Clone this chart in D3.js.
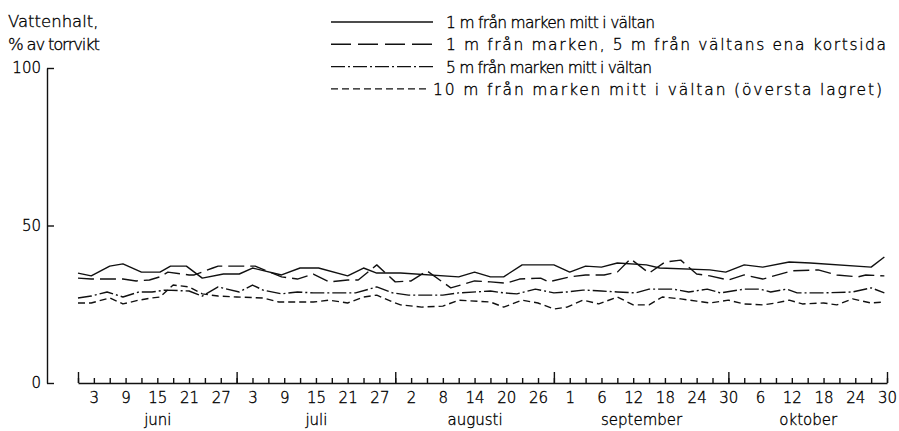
<!DOCTYPE html>
<head>
  <meta charset="utf-8">
  <script src="https://d3js.org/d3.v7.min.js"></script>
  <style>
    body { margin:0; background:#fff; }

    text {
      font-family: 'DejaVu Sans', sans-serif;
      font-weight: 200;
      fill: #000;
      stroke: #000;
      stroke-width: 0.35;
    }

    .axis path, .axis line {
      stroke: #111;
      stroke-width: 1.4;
    }

    .axis text {
      font-size: 15px;
    }

    .series {
      fill: none;
      stroke: #111;
      stroke-width: 1.4;
      stroke-linejoin: round;
    }

    .legend text {
      font-size: 15.5px;
    }
  </style>
</head>

<body>
  <script>
    // x is a day index: 0 = 31 May, small ticks every 3 days, labels every 6
    var tickLabels = ["3", "9", "15", "21", "27", "3", "9", "15", "21", "27",
                      "2", "8", "14", "20", "26", "1", "6", "12", "18", "24", "30",
                      "6", "12", "18", "24", "30"];
    var monthNames = ["juni", "juli", "augusti", "september", "oktober"];
    var monthBounds = [0, 30, 60, 90, 123, 153];
    var yTicks = [0, 50, 100];

    var seriesNames = [
      "1 m från marken mitt i vältan",
      "1 m från marken, 5 m från vältans ena kortsida",
      "5 m från marken mitt i vältan",
      "10 m från marken mitt i vältan (översta lagret)"
    ];

    // [day, % of dry weight]
    var mid1m = [[0,34.9],[2.5,34.0],[6,37.1],[8.5,37.8],[12,35.2],[15.5,35.2],[17.5,37.1],
      [20.5,37.1],[23.5,33.3],[27.5,34.6],[30.5,34.6],[33,36.5],[38.5,34.3],[42,36.5],
      [45.5,36.5],[51,34.0],[54,36.5],[56.5,34.9],[61,34.9],[72,33.7],[75,35.2],[78,33.7],
      [80.5,33.7],[84,37.5],[90,37.5],[93,35.2],[96,37.1],[99,36.8],[102,38.1],[107.5,37.5],
      [110,36.5],[119.5,35.9],[122.5,35.2],[126,37.5],[129.5,36.8],[134.5,38.4],[138.5,38.1],
      [150,36.8],[152.5,40.0]];

    var side1m = [[0,33.3],[2.5,33.0],[8.5,33.0],[11,32.4],[13.5,32.7],[15.5,33.7],[17,35.2],
      [21,34.3],[22,34.3],[25.5,36.5],[26.5,37.1],[33.5,37.1],[38.5,33.7],[41.5,33.0],
      [44.5,34.6],[47.5,32.1],[51,32.7],[53,32.7],[56.5,37.5],[60,32.1],[63,32.4],[66,35.6],
      [70.5,30.2],[75,32.4],[78,32.1],[81,31.7],[83.5,33.0],[87.5,33.3],[89,32.1],[93,33.7],
      [96,34.3],[99.5,34.3],[102,35.2],[104.5,39.4],[108,34.9],[111,38.4],[114,39.0],
      [117,34.6],[119.5,34.0],[123,32.7],[126,34.3],[129.5,33.0],[135,35.6],[140,35.9],
      [143.5,34.3],[147.5,33.7],[149,34.3],[152.5,34.0]];

    var mid5m = [[0,27.0],[2.5,27.6],[5.5,28.9],[8.5,27.3],[11.5,28.9],[14,28.9],[16.5,29.5],
      [21,29.2],[23.5,27.6],[26.5,30.5],[30.5,28.9],[33,31.1],[35,29.5],[38.5,28.3],
      [41.5,28.9],[44.5,28.6],[52.5,28.6],[56.5,30.5],[59.5,28.6],[62.5,27.9],[69,27.9],
      [72,28.6],[78,29.2],[80.5,28.6],[83,28.3],[86.5,29.8],[90,28.6],[92.5,28.9],[95.5,29.5],
      [99,29.2],[102,28.9],[105.5,28.6],[108,29.8],[112.5,29.8],[115.5,28.9],[119,29.8],
      [121.5,28.6],[126,29.8],[129,29.8],[131,28.9],[134,29.8],[136,28.6],[141,28.6],
      [146.5,28.9],[150,30.2],[152.5,28.6]];

    var top10m = [[0,25.4],[2.5,25.4],[6,27.0],[8.5,25.1],[11.5,26.3],[14,27.0],[15.5,27.3],
      [18,31.1],[21,30.5],[23.5,28.3],[26.5,27.6],[30,27.3],[35,27.0],[38,25.7],[44.5,25.7],
      [47.5,26.3],[51,25.4],[54,27.3],[56.5,27.9],[59.5,25.7],[61,24.8],[65,24.1],[69,24.4],
      [72,26.3],[78,25.7],[80.5,24.1],[84,26.3],[87,25.4],[90,23.5],[92.5,24.1],[95.5,26.3],
      [98.5,25.1],[102,27.3],[105,24.8],[108,24.8],[110.5,27.3],[114,26.7],[117,26.0],
      [119.5,25.4],[123,26.3],[126,25.1],[129.5,24.8],[132,25.4],[134.5,26.3],[137,25.1],
      [141,25.4],[143.5,24.8],[146.5,26.7],[150,25.4],[152.5,25.7]];

    var dashes = ["none", "16,6", "14,3,2,3", "7,4"];
    var seriesData = [mid1m, side1m, mid5m, top10m];

    // hand lettering in the legend is uneven, so each row gets its own width
    var legendTextWidth = [209, 440, 206, 449];

    var width = 899, height = 431;

    var svg = d3.select("body").append("svg")
        .attr("width", width)
        .attr("height", height);

    var x = d3.scaleLinear()
        .domain([0, 153])
        .range([78, 887]);

    var y = d3.scaleLinear()
        .domain([0, 100])
        .range([383, 68]);

    var line = d3.line()
        .x(d => x(d[0]))
        .y(d => y(d[1]));

    // y axis, ticks pointing inward
    var yAxis = d3.axisLeft(y)
        .tickValues(yTicks)
        .tickSize(-7)
        .tickSizeOuter(0)
        .tickPadding(6);

    svg.append("g")
        .attr("class", "axis y-axis")
        .attr("transform", "translate(47,0)")
        .call(yAxis);

    // x axis: small ticks, taller ticks at month bounds, then the labels
    var xBase = y(0);
    svg.append("g")
        .attr("class", "axis")
        .attr("transform", "translate(0," + xBase + ")")
        .call(d3.axisBottom(x)
          .tickValues(d3.range(0, 154, 3))
          .tickSize(-5)
          .tickSizeOuter(0)
          .tickFormat(""));

    svg.append("g")
        .attr("class", "axis")
        .attr("transform", "translate(0," + xBase + ")")
        .call(d3.axisBottom(x)
          .tickValues(monthBounds)
          .tickSize(-11)
          .tickSizeOuter(0)
          .tickFormat(""))
        .call(g => g.select(".domain").remove());

    var labelDays = tickLabels.map((t, i) => 3 + i * 6);
    svg.append("g")
        .attr("class", "axis")
        .attr("transform", "translate(0," + xBase + ")")
        .call(d3.axisBottom(x)
          .tickValues(labelDays)
          .tickSize(0)
          .tickPadding(9)
          .tickFormat((d, i) => tickLabels[i]))
        .call(g => g.select(".domain").remove());

    var monthMid = monthNames.map((m, i) => (monthBounds[i] + monthBounds[i + 1]) / 2);
    svg.append("g")
        .attr("class", "axis")
        .attr("transform", "translate(0," + xBase + ")")
        .call(d3.axisBottom(x)
          .tickValues(monthMid)
          .tickSize(0)
          .tickPadding(31)
          .tickFormat((d, i) => monthNames[i]))
        .call(g => g.select(".domain").remove());

    // y title
    svg.append("text")
        .attr("x", 8).attr("y", 27)
        .style("font-size", "16.5px")
        .text("Vattenhalt,");
    svg.append("text")
        .attr("x", 8).attr("y", 50)
        .style("font-size", "16.5px")
        .attr("textLength", 92)
        .text("% av torrvikt");

    // data lines
    svg.append("g")
      .selectAll("path")
      .data(seriesData)
      .enter().append("path")
        .attr("class", "series")
        .attr("d", d => line(d))
        .style("stroke-dasharray", (d, i) => dashes[i]);

    // legend
    var legend = svg.append("g")
        .attr("class", "legend")
        .selectAll("g")
        .data(seriesNames)
        .enter().append("g")
          .attr("transform", (d, i) => "translate(0," + (22 + i * 22.3) + ")");

    legend.append("line")
        .attr("class", "series")
        .attr("x1", 331)
        .attr("x2", (d, i) => i == 3 ? 428 : 433)
        .style("stroke-dasharray", (d, i) => i == 1 ? "20,7" : dashes[i]);

    legend.append("text")
        .attr("x", (d, i) => i == 3 ? 433 : 446)
        .attr("y", 6)
        .attr("textLength", (d, i) => legendTextWidth[i])
        .attr("lengthAdjust", "spacing")
        .text(d => d);
  </script>
</body>
